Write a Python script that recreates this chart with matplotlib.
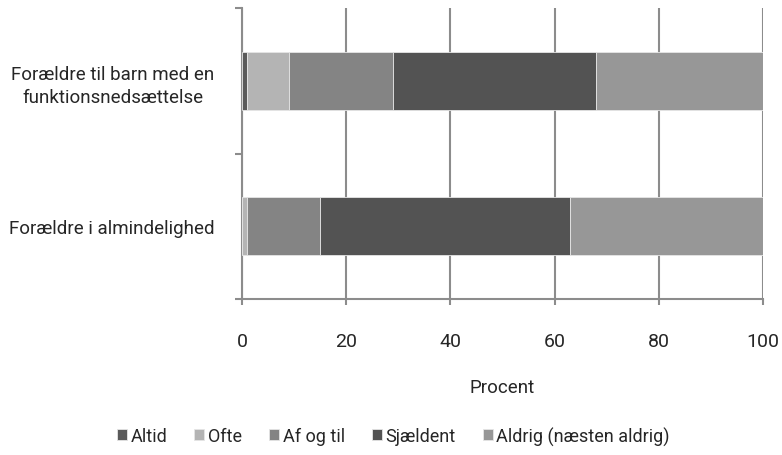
import numpy as np
import matplotlib
matplotlib.use("Agg")
import matplotlib.pyplot as plt

plt.rcParams['font.family'] = ['Roboto', 'DejaVu Sans']

# Data
categories = ["Forældre i almindelighed",
              "Forældre til barn med en\nfunktionsnedsættelse"]
series = ["Altid", "Ofte", "Af og til", "Sjældent", "Aldrig (næsten aldrig)"]
values = {
    "Altid": [0, 1],
    "Ofte": [1, 8],
    "Af og til": [14, 20],
    "Sjældent": [48, 39],
    "Aldrig (næsten aldrig)": [37, 32],
}
colors = ['#5a5a5a', '#b4b4b4', '#848484', '#535353', '#979797']
xticks = [0, 20, 40, 60, 80, 100]

txt = '#262626'

fig = plt.figure(figsize=(7.82, 4.56), dpi=100)
ax = fig.add_axes([242 / 782, 1 - 300 / 456, (763 - 242) / 782, (300 - 9) / 456])

y = np.arange(len(categories))
left = np.zeros(len(categories))
for name, col in zip(series, colors):
    vals = np.array(values[name], dtype=float)
    ax.barh(y, vals, left=left, height=0.4, color=col, label=name,
            edgecolor='#e6e6e6', linewidth=0.6, zorder=3)
    left += vals

ax.set_xlim(0, 100)
ax.set_ylim(-0.5, 1.5)
ax.set_xticks(xticks)
ax.set_xticklabels([str(t) for t in xticks], fontsize=14, color=txt)
ax.tick_params(axis='x', length=4, width=1.5, color='#8c8c8c', pad=20)
ax.grid(axis='x', color='#8c8c8c', linewidth=1.5, zorder=0)

# category boundaries as major ticks, labels as minor ticks
ax.set_yticks([-0.5, 0.5, 1.5])
ax.set_yticklabels([])
ax.tick_params(axis='y', which='major', length=5, width=1.5, color='#8c8c8c')
ax.set_yticks(y, minor=True)
ax.set_yticklabels(categories, minor=True, fontsize=13.5, color=txt,
                   multialignment='center', linespacing=1.4)
ax.tick_params(axis='y', which='minor', length=0, pad=20)

for side in ['top', 'right']:
    ax.spines[side].set_visible(False)
for side in ['left', 'bottom']:
    ax.spines[side].set_color('#8c8c8c')
    ax.spines[side].set_linewidth(1.5)

ax.set_xlabel("Procent", fontsize=13.5, color=txt, labelpad=20)

fig.legend(loc='center', bbox_to_anchor=(0.503, 1 - 437 / 456), ncol=5,
           frameon=False, fontsize=13, handlelength=0.55, handleheight=0.55,
           handletextpad=0.2, columnspacing=1.5, labelcolor=txt)

fig.savefig("out.png", dpi=100)
